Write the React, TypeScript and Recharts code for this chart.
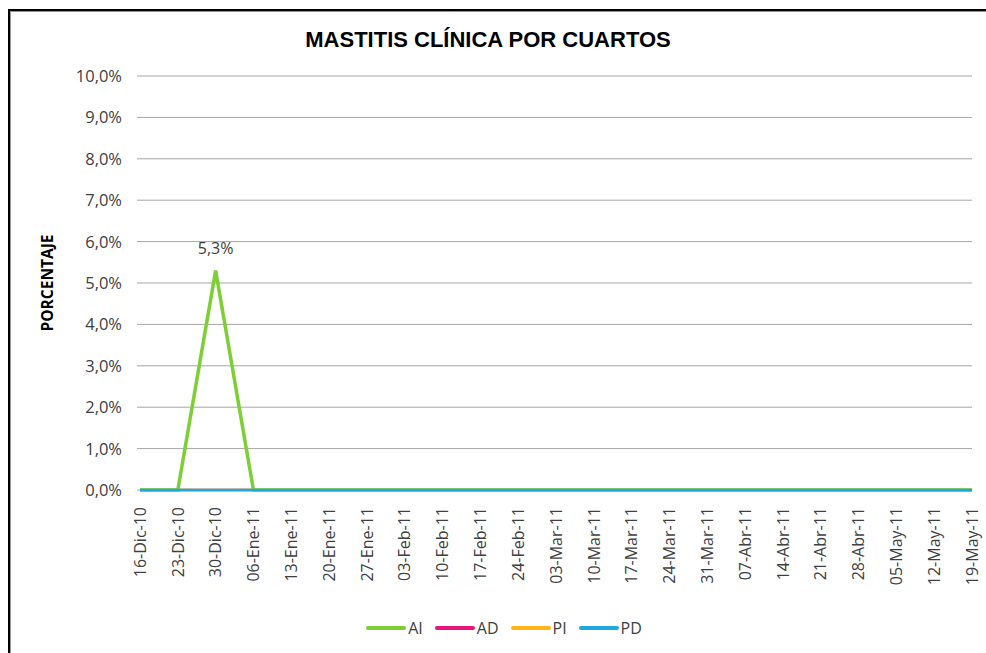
import React from 'react';
import { LineChart, Line, XAxis, YAxis, CartesianGrid } from 'recharts';

const categories = [
  '16-Dic-10', '23-Dic-10', '30-Dic-10', '06-Ene-11', '13-Ene-11', '20-Ene-11', '27-Ene-11',
  '03-Feb-11', '10-Feb-11', '17-Feb-11', '24-Feb-11', '03-Mar-11', '10-Mar-11', '17-Mar-11',
  '24-Mar-11', '31-Mar-11', '07-Abr-11', '14-Abr-11', '21-Abr-11', '28-Abr-11', '05-May-11',
  '12-May-11', '19-May-11',
];
const AI = [0, 0, 5.3, 0, 0, 0, 0, 0, 0, 0, 0, 0, 0, 0, 0, 0, 0, 0, 0, 0, 0, 0, 0];
const AD = [0, 0, 0, 0, 0, 0, 0, 0, 0, 0, 0, 0, 0, 0, 0, 0, 0, 0, 0, 0, 0, 0, 0];
const PI = [0, 0, 0, 0, 0, 0, 0, 0, 0, 0, 0, 0, 0, 0, 0, 0, 0, 0, 0, 0, 0, 0, 0];
const PD = [0, 0, 0, 0, 0, 0, 0, 0, 0, 0, 0, 0, 0, 0, 0, 0, 0, 0, 0, 0, 0, 0, 0];
const yTicks = [0, 1, 2, 3, 4, 5, 6, 7, 8, 9, 10];

const seriesNames = ['AI', 'AD', 'PI', 'PD'];
const seriesColors = ['#7dcf35', '#e8147a', '#ffb612', '#1ea9dd'];

const data = categories.map((c, i) => ({ cat: c, AI: AI[i], AD: AD[i], PI: PI[i], PD: PD[i] }));

const FONT = '"Open Sans", "Noto Sans", sans-serif';
const fmt = (v: number) => v.toFixed(1).replace('.', ',') + '%';

const XTick = (props: any) => {
  const { x, y, payload } = props;
  return (
    <text x={x} y={y + 9} transform={`rotate(-90, ${x}, ${y + 9})`} textAnchor="end" dy="0.36em"
      fontSize={16} fontFamily={FONT} fill="#404040">
      {payload.value}
    </text>
  );
};

const YTick = (props: any) => {
  const { x, y, payload } = props;
  return (
    <text x={x - 1} y={y} textAnchor="end" dy="0.36em" fontSize={16.5} fontFamily={FONT} fill="#404040">
      {fmt(payload.value)}
    </text>
  );
};

const AILabel = (props: any) => {
  const { x, y, value } = props;
  if (!value) return null;
  return (
    <text x={x} y={y - 17} textAnchor="middle" fontSize={16} fontFamily={FONT} fill="#404040">
      {fmt(value)}
    </text>
  );
};

export default function App() {
  return (
    <div style={{ position: 'fixed', left: 0, top: 0, width: 986, height: 653, background: '#fff', overflow: 'hidden' }}>
      <div style={{ position: 'absolute', left: 8, top: 9, width: 1000, height: 700, borderLeft: '2px solid #000', borderTop: '2px solid #000' }} />
      <div style={{ position: 'absolute', left: 10, top: 11, width: 1000, height: 700, borderLeft: '1px solid #999', borderTop: '1px solid #999' }} />
      <div style={{ position: 'absolute', left: 0, top: 27, width: 976, textAlign: 'center', fontFamily: '"Liberation Sans Narrow", "Arial Narrow", "Liberation Sans", sans-serif', fontWeight: 'bold', fontSize: 22, color: '#000' }}>
        MASTITIS CLÍNICA POR CUARTOS
      </div>
      <div style={{ position: 'absolute', left: 47, top: 283, transform: 'translate(-50%, -50%) rotate(-90deg)', fontFamily: FONT, fontWeight: 'bold', fontSize: 15.5, color: '#000', whiteSpace: 'nowrap' }}>
        PORCENTAJE
      </div>
      <div style={{ position: 'absolute', left: 0, top: 0 }}>
        <LineChart width={986} height={653} data={data} margin={{ top: 76, right: 14, left: 0, bottom: 0 }}>
          <CartesianGrid vertical={false} stroke="#a6a6a6" strokeWidth={1} />
          <XAxis dataKey="cat" interval={0} tick={<XTick />} tickLine={false} axisLine={false} height={163} padding={{ left: 3, right: 0 }} />
          <YAxis domain={[0, 10]} ticks={yTicks} tick={<YTick />} tickLine={false} axisLine={false} width={137} tickMargin={8} />
          <Line dataKey="AD" stroke={seriesColors[1]} strokeWidth={2.5} dot={false} isAnimationActive={false} />
          <Line dataKey="PI" stroke={seriesColors[2]} strokeWidth={2.5} dot={false} isAnimationActive={false} />
          <Line dataKey="AI" stroke={seriesColors[0]} strokeWidth={3.5} dot={false} isAnimationActive={false} label={<AILabel />} />
          <Line dataKey="PD" stroke={seriesColors[3]} strokeWidth={2.5} dot={false} isAnimationActive={false} />
        </LineChart>
      </div>
      <div style={{ position: 'absolute', left: 0, top: 617, width: 1020, display: 'flex', justifyContent: 'center', fontFamily: FONT, fontSize: 16, color: '#404040' }}>
        {seriesNames.map((n, i) => (
          <div key={n} style={{ display: 'flex', alignItems: 'center', marginRight: 12 }}>
            <div style={{ width: 40, height: 3.5, borderRadius: 2, background: seriesColors[i], marginRight: 2 }} />
            <span>{n}</span>
          </div>
        ))}
      </div>
    </div>
  );
}
